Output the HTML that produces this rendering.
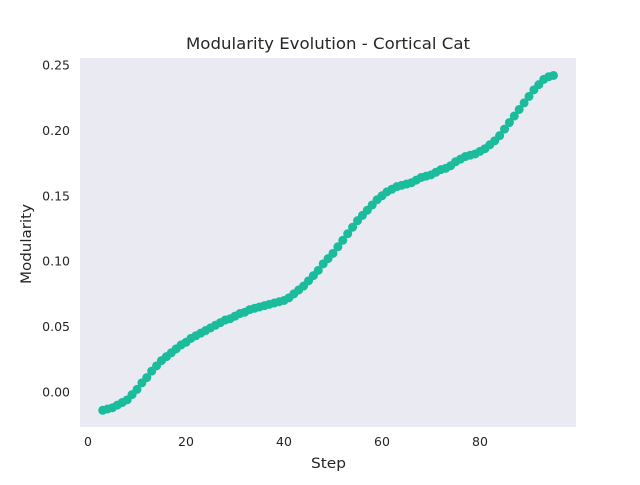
<!DOCTYPE html>
<html><head><meta charset="utf-8"><style>
body{margin:0;background:#fff;}
svg text{font-family:"DejaVu Sans","Liberation Sans",sans-serif;fill:#262626;}
</style></head><body>
<svg width="640" height="480" xmlns="http://www.w3.org/2000/svg">
<rect x="80" y="58" width="496" height="369" fill="#eaeaf2"/>
<text x="186" y="49" font-size="16" textLength="284" lengthAdjust="spacingAndGlyphs">Modularity Evolution - Cortical Cat</text>
<text x="311" y="468" font-size="14" textLength="35" lengthAdjust="spacingAndGlyphs">Step</text>
<text x="31" y="284" font-size="14" textLength="80" lengthAdjust="spacingAndGlyphs" transform="rotate(-90 31 284)">Modularity</text>
<g id="xt"></g>
<g id="yt"></g>
<g id="pts"></g>
</svg>
<script>
const steps=[];for(let s=3;s<=95;s++)steps.push(s);
const modularity=[-0.014,-0.013,-0.012,-0.010,-0.008,-0.006,-0.002,0.002,0.007,0.011,0.016,0.020,0.024,0.027,0.030,0.033,0.036,0.038,0.041,0.043,0.045,0.047,0.049,0.051,0.053,0.055,0.056,0.058,0.060,0.061,0.063,0.064,0.065,0.066,0.067,0.068,0.069,0.070,0.072,0.075,0.078,0.081,0.085,0.089,0.093,0.098,0.102,0.106,0.111,0.116,0.121,0.126,0.131,0.135,0.139,0.143,0.147,0.150,0.153,0.155,0.157,0.158,0.159,0.160,0.162,0.164,0.165,0.166,0.168,0.170,0.171,0.173,0.176,0.178,0.180,0.181,0.182,0.184,0.186,0.189,0.192,0.196,0.201,0.206,0.211,0.216,0.221,0.226,0.231,0.235,0.239,0.241,0.242];
const xTicks=[0,20,40,60,80];
const yTicks=[0.00,0.05,0.10,0.15,0.20,0.25];
const NS="http://www.w3.org/2000/svg";
const X=v=>88+v*4.9;
const Y=v=>392-v*1308;
const xt=document.getElementById('xt'),yt=document.getElementById('yt'),pts=document.getElementById('pts');
xTicks.forEach(t=>{const e=document.createElementNS(NS,'text');e.setAttribute('x',X(t));e.setAttribute('y',446);e.setAttribute('text-anchor','middle');e.setAttribute('font-size','12.5');e.textContent=t;


xt.appendChild(e);});
yTicks.forEach(t=>{const e=document.createElementNS(NS,'text');e.setAttribute('x',70);e.setAttribute('y',Y(t)+4.5);e.setAttribute('text-anchor','end');e.setAttribute('font-size','12.5');e.textContent=t.toFixed(2);


yt.appendChild(e);});
steps.forEach((s,i)=>{const c=document.createElementNS(NS,'circle');c.setAttribute('cx',X(s));c.setAttribute('cy',Y(modularity[i]));c.setAttribute('r',4.5);c.setAttribute('fill','#1abc9c');


pts.appendChild(c);});
</script>
</body></html>
